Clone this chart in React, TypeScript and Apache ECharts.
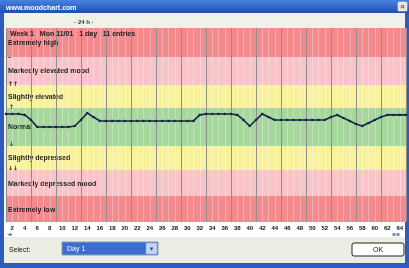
import React, { useEffect, useRef } from "react";
import * as echarts from "echarts";

const categories = [
  "1", "2", "3", "4", "5", "6", "7", "8", "9", "10", "11", "12", "13",
  "14", "15", "16", "17", "18", "19", "20", "21", "22", "23", "24", "25", "26",
  "27", "28", "29", "30", "31", "32", "33", "34", "35", "36", "37", "38", "39",
  "40", "41", "42", "43", "44", "45", "46", "47", "48", "49", "50", "51", "52",
  "53", "54", "55", "56", "57", "58", "59", "60", "61", "62", "63", "64", "65",
];

const moodValues = [
  55.7, 55.7, 55.7, 55.2, 52.6, 49.0, 49.0, 49.0, 49.0, 49.0, 49.0, 49.5, 52.6,
  56.2, 54.1, 52.1, 52.1, 52.1, 52.1, 52.1, 52.1, 52.1, 52.1, 52.1, 52.1, 52.1,
  52.1, 52.1, 52.1, 52.1, 52.1, 55.2, 55.7, 55.7, 55.7, 55.7, 55.7, 55.2, 52.6,
  49.5, 52.6, 55.7, 54.1, 52.6, 52.6, 52.6, 52.6, 52.6, 52.6, 52.6, 52.6, 52.6,
  54.1, 55.2, 53.6, 52.1, 50.5, 49.5, 51.0, 52.6, 54.1, 55.2, 55.2, 55.2, 55.2,
];

const bandEdges = [0, 13.4, 26.8, 39.2, 58.8, 70.6, 85.1, 100];
const bandNames = [
  "Extremely low",
  "Markedly depressed mood",
  "Slightly depressed",
  "Normal",
  "Slightly elevated",
  "Markedly elevated mood",
  "Extremely high",
];
const bandColors = ["#f38a8e", "#f8c4c9", "#f8f29c", "#a6d89d", "#f8f29c", "#f8c4c9", "#f38a8e"];
const redBands = [0, 6];

const FONT = "Liberation Sans, Arial, sans-serif";

export default function App() {
  const ref = useRef<HTMLDivElement>(null);

  useEffect(() => {
    if (!ref.current) return;
    const chart = echarts.init(ref.current, null, { renderer: "svg" });

    const areaItem = (i: number, withLabel: boolean, transparent: boolean) => [
      {
        yAxis: bandEdges[i],
        name: withLabel ? bandNames[i] : "",
        itemStyle: { color: transparent ? "rgba(0,0,0,0)" : bandColors[i] },
      },
      { yAxis: bandEdges[i + 1] },
    ];

    const allIdx = bandNames.map((_, i) => i);
    const innerIdx = allIdx.filter((i) => !redBands.includes(i));

    chart.setOption({
      animation: false,
      textStyle: { fontFamily: FONT },
      grid: { left: 6, right: 3, top: 28, bottom: 46, containLabel: false },
      xAxis: [
        {
          type: "category",
          data: categories,
          boundaryGap: false,
          z: 2,
          axisLine: { show: false },
          axisTick: { show: false },
          axisLabel: {
            interval: (i: number) => i % 2 === 1,
            fontSize: 6,
            fontWeight: "bold",
            color: "#111",
            margin: 3,
            fontFamily: FONT,
          },
          splitLine: {
            show: true,
            interval: (i: number) => i % 4 === 0,
            lineStyle: { color: "#8e8e8e", width: 1 },
          },
        },
        {
          type: "category",
          data: categories,
          boundaryGap: false,
          z: 4,
          axisLine: { show: false },
          axisTick: { show: false },
          axisLabel: { show: false },
          splitLine: {
            show: true,
            interval: (i: number) => i % 4 !== 0,
            lineStyle: { color: "rgba(255,255,255,0.3)", width: 1 },
          },
        },
      ],
      yAxis: {
        type: "value",
        min: 0,
        max: 100,
        show: false,
        splitLine: { show: false },
      },
      series: [
        {
          name: "bands",
          type: "line",
          z: 1,
          silent: true,
          data: moodValues,
          showSymbol: false,
          lineStyle: { opacity: 0 },
          markArea: {
            silent: true,
            label: { show: false },
            data: innerIdx.map((i) => areaItem(i, false, false)),
          },
        },
        {
          name: "redBands",
          type: "line",
          z: 3,
          silent: true,
          data: moodValues,
          showSymbol: false,
          lineStyle: { opacity: 0 },
          markArea: {
            silent: true,
            label: { show: false },
            data: redBands.map((i) => areaItem(i, false, false)),
          },
        },
        {
          name: "mood",
          type: "line",
          z: 5,
          data: moodValues,
          symbol: "circle",
          symbolSize: 2.5,
          showSymbol: true,
          itemStyle: { color: "#16204a" },
          lineStyle: { color: "#16204a", width: 1.6 },
        },
        {
          name: "labels",
          type: "line",
          z: 6,
          silent: true,
          data: moodValues,
          showSymbol: false,
          lineStyle: { opacity: 0 },
          markArea: {
            silent: true,
            label: {
              show: true,
              position: "insideLeft",
              distance: 2,
              fontSize: 7,
              fontWeight: "bold",
              color: "#1a1a1a",
              fontFamily: FONT,
            },
            data: allIdx.map((i) => areaItem(i, true, true)),
          },
        },
      ],
      graphic: [
        { type: "rect", z: 0, shape: { x: 0, y: 0, width: 409, height: 268 }, style: { fill: "#2d5cbc" } },
        {
          type: "rect",
          z: 0,
          shape: { x: 0, y: 0, width: 409, height: 13 },
          style: {
            fill: new echarts.graphic.LinearGradient(0, 0, 0, 1, [
              { offset: 0, color: "#4a82e0" },
              { offset: 1, color: "#1f4fb0" },
            ]),
          },
        },
        {
          type: "text",
          z: 1,
          x: 6,
          y: 7,
          style: { text: "www.moodchart.com", fill: "#ffffff", fontSize: 7, fontWeight: "bold", fontFamily: FONT, verticalAlign: "middle" },
        },
        { type: "rect", z: 1, shape: { x: 398, y: 2, width: 9, height: 9, r: 1 }, style: { fill: "#ece4d8", stroke: "#ffffff", lineWidth: 0.5 } },
        {
          type: "text",
          z: 2,
          x: 402.5,
          y: 6.5,
          style: { text: "×", fill: "#b04020", fontSize: 8, fontWeight: "bold", align: "center", verticalAlign: "middle", fontFamily: FONT },
        },
        { type: "rect", z: 0, shape: { x: 4, y: 13, width: 401, height: 250 }, style: { fill: "#f3f3ec" } },
        { type: "rect", z: 0, shape: { x: 4, y: 13, width: 401, height: 15 }, style: { fill: "#eef2e8" } },
        {
          type: "text",
          z: 1,
          x: 84,
          y: 21.5,
          style: { text: "· 24 h ·", fill: "#333", fontSize: 6, fontWeight: "bold", align: "center", verticalAlign: "middle", fontFamily: FONT },
        },
        { type: "rect", z: 0, shape: { x: 4, y: 222, width: 401, height: 15 }, style: { fill: "#ffffff" } },
        {
          type: "text",
          z: 1,
          x: 7,
          y: 233,
          style: { text: "◄", fill: "#4a78c8", fontSize: 6, verticalAlign: "middle", fontFamily: "DejaVu Sans" },
        },
        {
          type: "text",
          z: 1,
          x: 392,
          y: 233,
          style: { text: "▪▪", fill: "#6f8fc8", fontSize: 6, verticalAlign: "middle", fontFamily: "DejaVu Sans" },
        },
        { type: "rect", z: 0, shape: { x: 4, y: 237, width: 401, height: 26 }, style: { fill: "#eeede3" } },
        {
          type: "text",
          z: 1,
          x: 9,
          y: 249,
          style: { text: "Select:", fill: "#111", fontSize: 7, verticalAlign: "middle", fontFamily: FONT },
        },
        { type: "rect", z: 1, shape: { x: 62, y: 242, width: 96, height: 13 }, style: { fill: "#3c6ed0", stroke: "#7f9db9", lineWidth: 1 } },
        {
          type: "text",
          z: 2,
          x: 67,
          y: 248.5,
          style: { text: "Day 1", fill: "#ffffff", fontSize: 7, verticalAlign: "middle", fontFamily: FONT },
        },
        { type: "rect", z: 2, shape: { x: 146, y: 243, width: 11, height: 11, r: 1 }, style: { fill: "#c4d4f6", stroke: "#9db3e0", lineWidth: 0.5 } },
        {
          type: "text",
          z: 3,
          x: 151.5,
          y: 248.5,
          style: { text: "▾", fill: "#3050a0", fontSize: 7, align: "center", verticalAlign: "middle", fontFamily: "DejaVu Sans" },
        },
        { type: "rect", z: 1, shape: { x: 352, y: 243, width: 52, height: 13, r: 2 }, style: { fill: "#ffffff", stroke: "#222222", lineWidth: 1 } },
        {
          type: "text",
          z: 2,
          x: 378,
          y: 249.5,
          style: { text: "OK", fill: "#111", fontSize: 7, align: "center", verticalAlign: "middle", fontFamily: FONT },
        },
        {
          type: "text",
          z: 10,
          x: 10,
          y: 33,
          style: { text: "Week 1   Mon 11/01   1 day   11 entries", fill: "#1a1a1a", fontSize: 7, fontWeight: "bold", verticalAlign: "middle", fontFamily: FONT },
        },
        { type: "text", z: 10, x: 8, y: 56, style: { text: "–", fill: "#222", fontSize: 6, fontWeight: "bold", verticalAlign: "middle", fontFamily: "DejaVu Sans" } },
        { type: "text", z: 10, x: 8, y: 83, style: { text: "↑↑", fill: "#222", fontSize: 6, fontWeight: "bold", verticalAlign: "middle", fontFamily: "DejaVu Sans" } },
        { type: "text", z: 10, x: 9, y: 106, style: { text: "↑", fill: "#222", fontSize: 6, fontWeight: "bold", verticalAlign: "middle", fontFamily: "DejaVu Sans" } },
        { type: "text", z: 10, x: 9, y: 143, style: { text: "↓", fill: "#222", fontSize: 6, fontWeight: "bold", verticalAlign: "middle", fontFamily: "DejaVu Sans" } },
        { type: "text", z: 10, x: 8, y: 167, style: { text: "↓↓", fill: "#222", fontSize: 6, fontWeight: "bold", verticalAlign: "middle", fontFamily: "DejaVu Sans" } },
      ],
    });

    return () => chart.dispose();
  }, []);

  return (
    <div
      ref={ref}
      style={{ position: "fixed", left: 0, top: 0, width: 409, height: 268 }}
    />
  );
}
